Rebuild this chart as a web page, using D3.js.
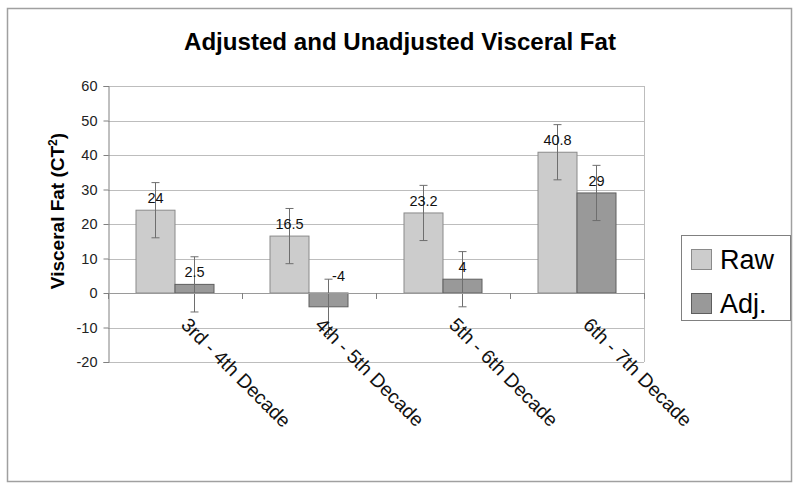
<!DOCTYPE html>
<html>
<head>
<meta charset="utf-8">
<script src="https://cdn.jsdelivr.net/npm/d3@7"></script>
<style>
  body { margin: 0; background: #fff; }
  svg { display: block; font-family: "Liberation Sans", Arial, sans-serif; }
</style>
</head>
<body>
<svg id="chart" width="800" height="491"></svg>
<script>
const categories = ["3rd - 4th Decade", "4th - 5th Decade", "5th - 6th Decade", "6th - 7th Decade"];
const seriesNames = ["Raw", "Adj."];
const rawValues = [24, 16.5, 23.2, 40.8];
const adjValues = [2.5, -4, 4, 29];
const rawErrors = [8, 8, 8, 8];
const adjErrors = [8, 8, 8, 8];
const yTicks = [-20, -10, 0, 10, 20, 30, 40, 50, 60];
const titleText = "Adjusted and Unadjusted Visceral Fat";

const fills = ["#cccccc", "#999999"];
const strokes = ["#8a8a8a", "#5e5e5e"];

const svg = d3.select("#chart");

// outer border
svg.append("rect").attr("x", 7.5).attr("y", 8.5).attr("width", 784).attr("height", 473)
  .attr("fill", "#fff").attr("stroke", "#a0a0a0").attr("stroke-width", 1.5);

const pLeft = 108, pRight = 644, pTop = 86, pBottom = 362;

const x = d3.scaleBand().domain(categories).range([pLeft, pRight]).paddingInner(0).paddingOuter(0);
const y = d3.scaleLinear().domain([-20, 60]).range([pBottom, pTop]);
const xs = d3.scaleBand().domain(seriesNames).range([0, 78]);
const groupOffset = (x.bandwidth() - 78) / 2;

// gridlines
svg.append("g").selectAll("line").data(yTicks).join("line")
  .attr("x1", pLeft).attr("x2", pRight)
  .attr("y1", d => Math.round(y(d)) + 0.5).attr("y2", d => Math.round(y(d)) + 0.5)
  .attr("stroke", "#bdbdbd").attr("stroke-width", 1);

// right border of plot
svg.append("line").attr("x1", pRight + 0.5).attr("x2", pRight + 0.5).attr("y1", pTop).attr("y2", pBottom)
  .attr("stroke", "#bdbdbd");

// y axis
const yAxis = d3.axisLeft(y).tickValues(yTicks).tickSize(5).tickPadding(6).tickFormat(d => String(d));
const yg = svg.append("g").attr("transform", `translate(${pLeft + 0.5},0)`).call(yAxis);
yg.select(".domain").attr("stroke", "#808080");
yg.selectAll(".tick line").attr("stroke", "#808080");
yg.selectAll("text").attr("font-size", 14.5).attr("fill", "#222").attr("font-family", "Liberation Sans, Arial, sans-serif");

// bars
const data = categories.map((c, i) => ({
  c, vals: [
    {s: "Raw", v: rawValues[i], e: rawErrors[i], k: 0},
    {s: "Adj.", v: adjValues[i], e: adjErrors[i], k: 1}
  ]
}));

const groups = svg.append("g").selectAll("g").data(data).join("g")
  .attr("transform", d => `translate(${x(d.c) + groupOffset},0)`);

groups.selectAll("rect").data(d => d.vals).join("rect")
  .attr("x", d => xs(d.s))
  .attr("width", xs.bandwidth())
  .attr("y", d => y(Math.max(0, d.v)))
  .attr("height", d => Math.abs(y(d.v) - y(0)))
  .attr("fill", d => fills[d.k])
  .attr("stroke", d => strokes[d.k])
  .attr("stroke-width", 1);

// x axis line (zero) + ticks
svg.append("line").attr("x1", pLeft).attr("x2", pRight).attr("y1", Math.round(y(0)) + 0.5).attr("y2", Math.round(y(0)) + 0.5)
  .attr("stroke", "#9a9a9a");
const bounds = categories.map(c => x(c)).concat([pRight]);
svg.append("g").selectAll("line").data(bounds).join("line")
  .attr("x1", d => Math.round(d) + 0.5).attr("x2", d => Math.round(d) + 0.5)
  .attr("y1", y(0)).attr("y2", y(0) + 6)
  .attr("stroke", "#808080");

// error bars
const eb = groups.selectAll("g.err").data(d => d.vals).join("g").attr("class", "err");
eb.append("line")
  .attr("x1", d => xs(d.s) + xs.bandwidth() / 2).attr("x2", d => xs(d.s) + xs.bandwidth() / 2)
  .attr("y1", d => y(d.v + d.e)).attr("y2", d => y(d.v - d.e))
  .attr("stroke", "#6e6e6e").attr("stroke-width", 1);
eb.selectAll("line.cap").data(d => [d.v + d.e, d.v - d.e].map(v => ({v, cx: xs(d.s) + xs.bandwidth() / 2})))
  .join("line").attr("class", "cap")
  .attr("x1", d => d.cx - 4).attr("x2", d => d.cx + 4)
  .attr("y1", d => y(d.v)).attr("y2", d => y(d.v))
  .attr("stroke", "#6e6e6e").attr("stroke-width", 1);

// value labels
groups.selectAll("text.val").data(d => d.vals).join("text").attr("class", "val")
  .attr("x", d => xs(d.s) + xs.bandwidth() / 2 + (d.v < 0 ? 10 : 0))
  .attr("y", d => y(Math.max(0, d.v)) - (d.v < 0 ? 12 : 7))
  .attr("text-anchor", "middle")
  .attr("font-size", 14.5).attr("fill", "#111")
  .text(d => d.v);

// x labels
svg.append("g").selectAll("text").data(categories).join("text")
  .attr("transform", d => `translate(${x(d) + x.bandwidth() / 2 + 5},${y(0) + 33}) rotate(45)`)
  .attr("font-size", 19.5).attr("fill", "#111")
  .text(d => d);

// title
svg.append("text").attr("x", 400).attr("y", 50).attr("text-anchor", "middle")
  .attr("font-size", 24).attr("font-weight", "bold").attr("fill", "#000")
  .attr("textLength", 432).attr("lengthAdjust", "spacingAndGlyphs")
  .text(titleText);

// y axis title
const yt = svg.append("text").attr("transform", `translate(64,${211}) rotate(-90)`)
  .attr("text-anchor", "middle").attr("font-size", 19).attr("font-weight", "bold").attr("fill", "#000");
yt.append("tspan").text("Visceral Fat (CT");
yt.append("tspan").attr("baseline-shift", "super").attr("font-size", 12).text("2");
yt.append("tspan").text(")");

// legend
const lg = svg.append("g");
lg.append("rect").attr("x", 681.5).attr("y", 235.5).attr("width", 109).attr("height", 85)
  .attr("fill", "#fff").attr("stroke", "#808080");
seriesNames.forEach((s, i) => {
  lg.append("rect").attr("x", 691.5).attr("y", 249.5 + i * 44).attr("width", 20).attr("height", 20)
    .attr("fill", fills[i]).attr("stroke", strokes[i]);
  lg.append("text").attr("x", 720).attr("y", 269 + i * 44).attr("font-size", 27).attr("fill", "#000").text(s);
});
</script>
</body>
</html>
